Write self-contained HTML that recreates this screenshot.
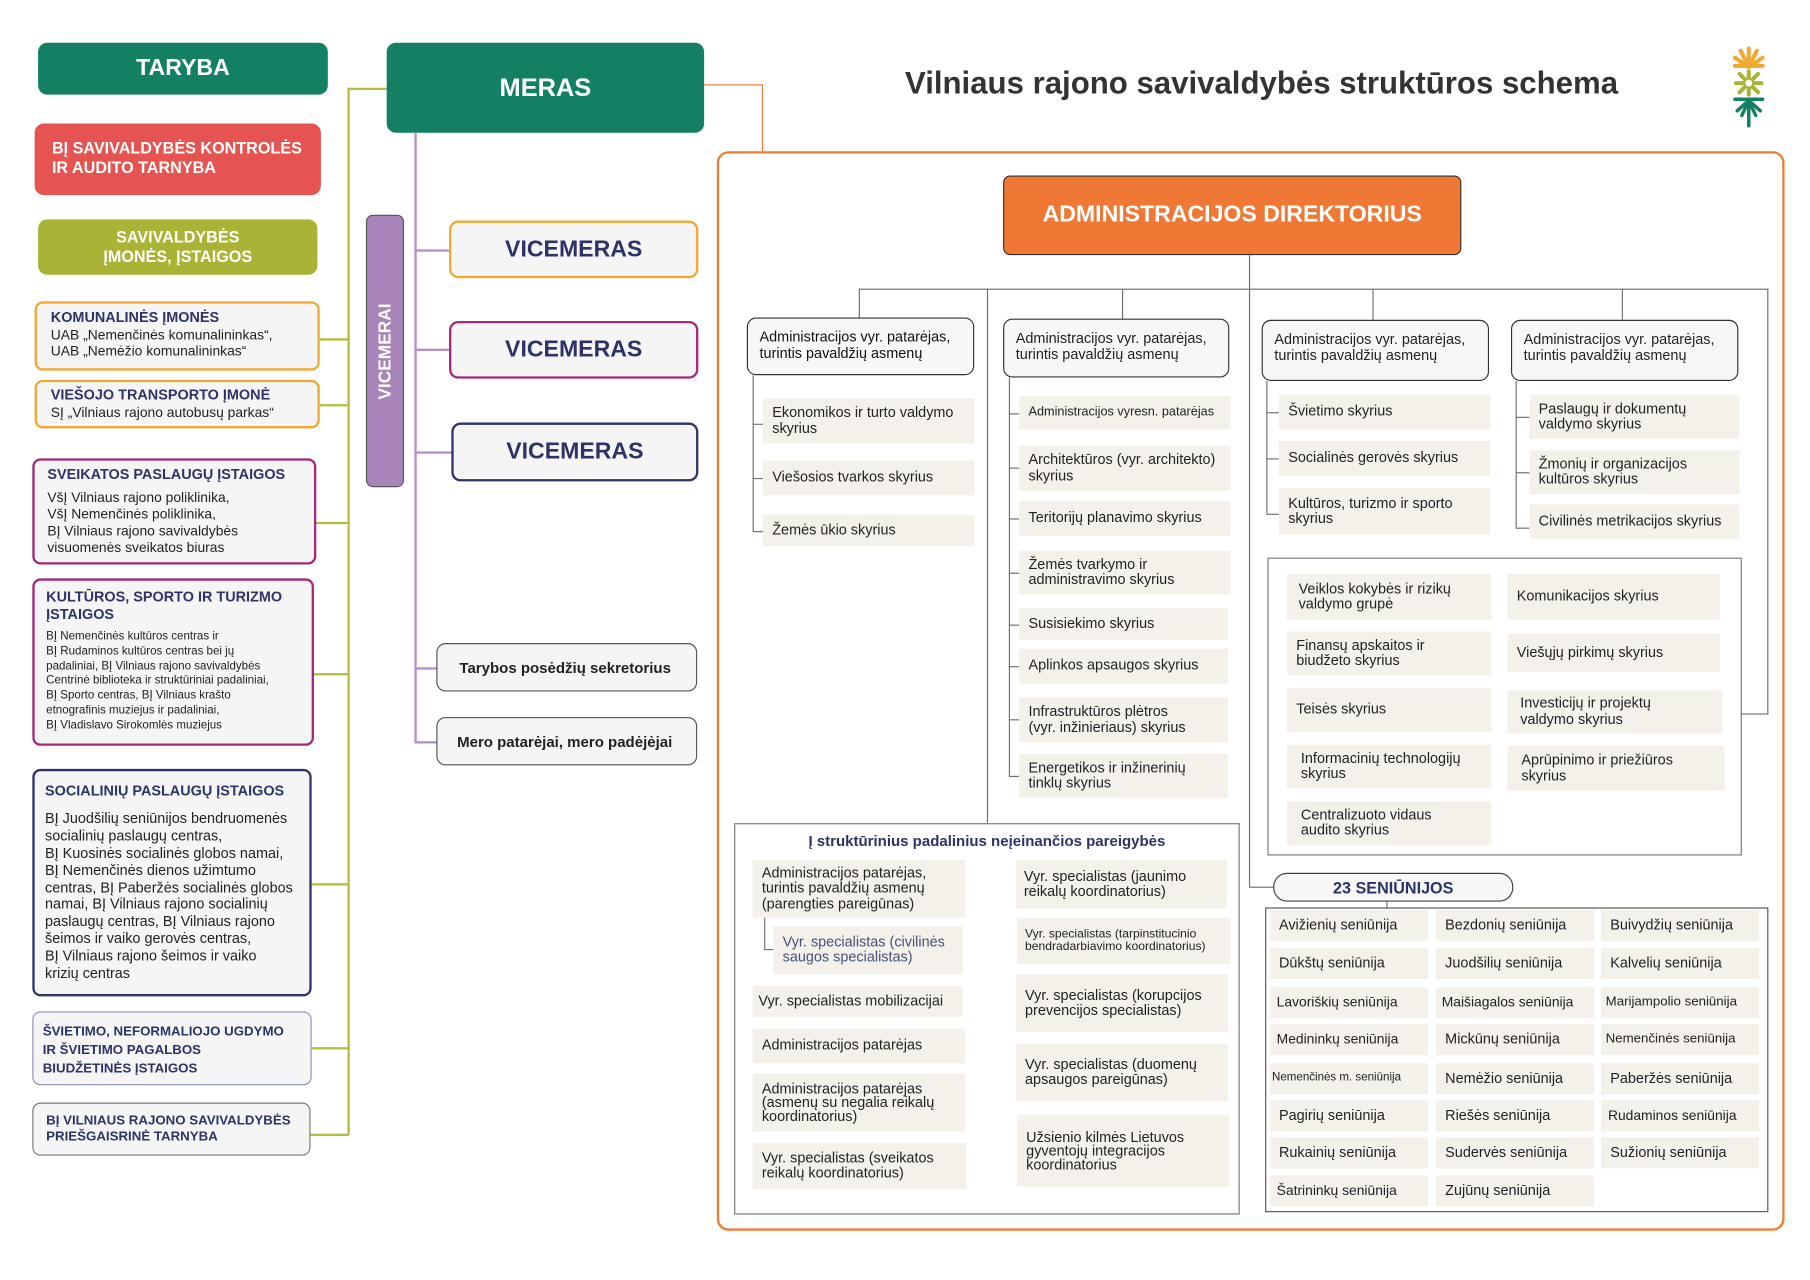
<!DOCTYPE html>
<html><head><meta charset="utf-8">
<style>
html,body{margin:0;padding:0;background:#fff;width:1810px;height:1280px;overflow:hidden}
#w{position:absolute;left:0;top:0;width:1568px;height:1109px;transform-origin:0 0;transform:scale(1.1543,1.1545);font-family:"Liberation Sans",sans-serif;color:#222}
.b{position:absolute;box-sizing:border-box}
.h{position:absolute;height:1px;background:#6f6f6f}
.v{position:absolute;width:1px;background:#6f6f6f}
.it{position:absolute;box-sizing:border-box;background:#f3f1ea;padding-left:8px;display:flex;align-items:center;font-size:12.5px;line-height:1.05;color:#222;white-space:nowrap}
.hd{position:absolute;box-sizing:border-box;background:#f7f7f7;border:1px solid #333;border-radius:8px;padding:10px 10px;font-size:12.5px;line-height:1.1}
.lb{position:absolute;box-sizing:border-box;background:#f5f5f6;border-radius:7px;padding:6px 10px;font-size:12px;line-height:1.2}
.lb b{color:#2d3366;font-size:12.5px}
.vm{position:absolute;box-sizing:border-box;background:#f5f5f6;border-radius:8px;display:flex;align-items:center;justify-content:center;font-weight:bold;font-size:20px;color:#2d3366;border-width:2px;border-style:solid}
.ol{position:absolute;background:#b5bd3c}
.pl{position:absolute;background:#b48fc7}
</style></head><body><div id="w">

<div class="ol" style="left:301px;top:76px;width:1.5px;height:907px"></div>
<div class="ol" style="left:301px;top:76px;width:34px;height:1.5px"></div>
<div class="ol" style="left:277px;top:293px;width:25px;height:1.5px"></div>
<div class="ol" style="left:277px;top:350px;width:25px;height:1.5px"></div>
<div class="ol" style="left:274px;top:452px;width:28px;height:1.5px"></div>
<div class="ol" style="left:272px;top:583px;width:30px;height:1.5px"></div>
<div class="ol" style="left:270px;top:765px;width:32px;height:1.5px"></div>
<div class="ol" style="left:270px;top:907px;width:32px;height:1.5px"></div>
<div class="ol" style="left:269px;top:982px;width:33px;height:1.5px"></div>

<div class="b" style="left:33px;top:37px;width:251px;height:45px;background:#138064;border-radius:8px;color:#fff;font-weight:bold;font-size:20px;display:flex;align-items:center;justify-content:center">TARYBA</div>
<div class="b" style="left:30px;top:107px;width:248px;height:62px;background:#e55451;border-radius:8px;color:#fff;font-weight:bold;font-size:14px;padding:13px 0 0 15px;line-height:1.2">BĮ SAVIVALDYBĖS KONTROLĖS<br>IR AUDITO TARNYBA</div>
<div class="b" style="left:33px;top:190px;width:242px;height:48px;background:#a9b436;border-radius:8px;color:#fff;font-weight:bold;font-size:14px;display:flex;align-items:center;justify-content:center;text-align:center;line-height:1.2">SAVIVALDYBĖS<br>ĮMONĖS, ĮSTAIGOS</div>

<div class="lb" style="left:30px;top:261px;width:247px;height:60px;border:2px solid #efa830;padding:5px 12px"><b>KOMUNALINĖS ĮMONĖS</b><br>UAB „Nemenčinės komunalininkas“,<br>UAB „Nemėžio komunalininkas“</div>
<div class="lb" style="left:30px;top:329px;width:247px;height:42px;border:2px solid #efa830;padding:4px 12px"><b>VIEŠOJO TRANSPORTO ĮMONĖ</b><br>SĮ „Vilniaus rajono autobusų parkas“</div>
<div class="lb" style="left:28px;top:397px;width:246px;height:92px;border:2px solid #a3287a;padding:5px 11px"><b>SVEIKATOS PASLAUGŲ ĮSTAIGOS</b><div style="margin-top:5px;line-height:1.2">VšĮ Vilniaus rajono poliklinika,<br>VšĮ Nemenčinės poliklinika,<br>BĮ Vilniaus rajono savivaldybės<br>visuomenės sveikatos biuras</div></div>
<div class="lb" style="left:28px;top:501px;width:244px;height:145px;border:2px solid #a3287a;padding:7px 10px"><b>KULTŪROS, SPORTO IR TURIZMO<br>ĮSTAIGOS</b><div style="margin-top:6px;font-size:10px;line-height:1.28">BĮ Nemenčinės kultūros centras ir<br>BĮ Rudaminos kultūros centras bei jų<br>padaliniai, BĮ Vilniaus rajono savivaldybės<br>Centrinė biblioteka ir struktūriniai padaliniai,<br>BĮ Sporto centras, BĮ Vilniaus krašto<br>etnografinis muziejus ir padaliniai,<br>BĮ Vladislavo Sirokomlės muziejus</div></div>
<div class="lb" style="left:28px;top:666px;width:242px;height:197px;border:2px solid #2f3369;padding:10px 9px"><b>SOCIALINIŲ PASLAUGŲ ĮSTAIGOS</b><div style="margin-top:9px;font-size:12.5px;line-height:1.19">BĮ Juodšilių seniūnijos bendruomenės<br>socialinių paslaugų centras,<br>BĮ Kuosinės socialinės globos namai,<br>BĮ Nemenčinės dienos užimtumo<br>centras, BĮ Paberžės socialinės globos<br>namai, BĮ Vilniaus rajono socialinių<br>paslaugų centras, BĮ Vilniaus rajono<br>šeimos ir vaiko gerovės centras,<br>BĮ Vilniaus rajono šeimos ir vaiko<br>krizių centras</div></div>
<div class="lb" style="left:28px;top:876px;width:242px;height:64px;border:1px solid #8a8fb5;padding:9px 8px;line-height:1.2"><b style="font-size:11.5px">ŠVIETIMO, NEFORMALIOJO UGDYMO<br>IR ŠVIETIMO PAGALBOS<br>BIUDŽETINĖS ĮSTAIGOS</b></div>
<div class="lb" style="left:28px;top:955px;width:241px;height:46px;border:1px solid #777;padding:8px 11px;line-height:1.15"><b style="font-size:11.5px">BĮ VILNIAUS RAJONO SAVIVALDYBĖS<br>PRIEŠGAISRINĖ TARNYBA</b></div>

<div class="b" style="left:335px;top:37px;width:275px;height:78px;background:#138064;border-radius:8px;color:#fff;font-weight:bold;font-size:22px;display:flex;align-items:center;justify-content:center">MERAS</div>
<div class="b" style="left:610px;top:73px;width:51px;height:59px;border-top:1.5px solid #ef7a35;border-right:1.5px solid #ef7a35"></div>

<div class="pl" style="left:359px;top:115px;width:1.5px;height:528px"></div>
<div class="pl" style="left:359px;top:216px;width:30px;height:1.5px"></div>
<div class="pl" style="left:359px;top:302px;width:30px;height:1.5px"></div>
<div class="pl" style="left:359px;top:391px;width:32px;height:1.5px"></div>
<div class="pl" style="left:359px;top:578px;width:20px;height:1.5px"></div>
<div class="pl" style="left:359px;top:642px;width:20px;height:1.5px"></div>
<div class="b" style="left:317px;top:186px;width:33px;height:236px;background:#a785bb;border:1px solid #555;border-radius:6px"></div>
<div class="b" style="left:317px;top:186px;width:33px;height:236px;display:flex;align-items:center;justify-content:center"><div style="transform:rotate(-90deg);color:#fff;font-weight:bold;font-size:15px;white-space:nowrap">VICEMERAI</div></div>
<div class="vm" style="left:389px;top:191px;width:216px;height:50px;border-color:#efa830">VICEMERAS</div>
<div class="vm" style="left:389px;top:278px;width:216px;height:50px;border-color:#a3287a">VICEMERAS</div>
<div class="vm" style="left:391px;top:366px;width:214px;height:51px;border-color:#2f3369">VICEMERAS</div>
<div class="b" style="left:378px;top:557px;width:226px;height:42px;background:#f5f5f5;border:1px solid #555;border-radius:8px;font-weight:bold;font-size:13px;display:flex;align-items:center;padding-left:19px">Tarybos posėdžių sekretorius</div>
<div class="b" style="left:378px;top:621px;width:226px;height:42px;background:#f5f5f5;border:1px solid #555;border-radius:8px;font-weight:bold;font-size:13px;display:flex;align-items:center;padding-left:17px">Mero patarėjai, mero padėjėjai</div>

<div class="b" style="left:784px;top:57px;font-size:27px;font-weight:bold;color:#333;white-space:nowrap">Vilniaus rajono savivaldybės struktūros schema</div>
<svg class="b" style="left:1498px;top:38px" width="34" height="74" viewBox="0 0 34 74">
<g stroke="#efa830" stroke-width="3.5" stroke-linecap="round"><line x1="17" y1="20" x2="17" y2="4"/><line x1="17" y1="20" x2="10" y2="6"/><line x1="17" y1="20" x2="24" y2="6"/><line x1="17" y1="20" x2="5" y2="12"/><line x1="17" y1="20" x2="29" y2="12"/><line x1="5" y1="19" x2="29" y2="19"/></g>
<g stroke="#a9b436" stroke-width="3.5" stroke-linecap="round"><line x1="17" y1="24" x2="17" y2="44"/><line x1="6" y1="34" x2="28" y2="34"/><line x1="9" y1="26" x2="25" y2="42"/><line x1="25" y1="26" x2="9" y2="42"/></g>
<circle cx="17" cy="34" r="3" fill="#fff"/>
<g stroke="#138064" stroke-width="3" stroke-linecap="round"><line x1="5" y1="48" x2="29" y2="48"/><line x1="17" y1="48" x2="17" y2="71"/><line x1="17" y1="49" x2="7" y2="58"/><line x1="17" y1="49" x2="27" y2="58"/><line x1="17" y1="49" x2="11" y2="62"/><line x1="17" y1="49" x2="23" y2="62"/></g>
</svg>

<div class="b" style="left:621px;top:131px;width:925px;height:935px;border:2px solid #ef7a35;border-radius:10px"></div>
<div class="b" style="left:869px;top:152px;width:397px;height:69px;background:#ef7834;border:1px solid #333;border-radius:6px;color:#fff;font-weight:bold;font-size:20px;display:flex;align-items:center;justify-content:center">ADMINISTRACIJOS DIREKTORIUS</div>

<div class="v" style="left:1082px;top:221px;height:547px"></div>
<div class="h" style="left:744px;top:250px;width:788px"></div>
<div class="v" style="left:744px;top:250px;height:25px"></div>
<div class="v" style="left:972px;top:250px;height:26px"></div>
<div class="v" style="left:1189px;top:250px;height:27px"></div>
<div class="v" style="left:1405px;top:250px;height:27px"></div>
<div class="v" style="left:855px;top:250px;height:463px"></div>
<div class="v" style="left:1531px;top:250px;height:369px"></div>
<div class="h" style="left:1508px;top:618px;width:24px"></div>
<div class="h" style="left:1082px;top:768px;width:21px"></div>

<div class="hd" style="left:647px;top:275px;width:197px;height:50px;color:#111">Administracijos vyr. patarėjas, turintis pavaldžių asmenų</div>
<div class="hd" style="left:869px;top:276px;width:196px;height:51px">Administracijos vyr. patarėjas, turintis pavaldžių asmenų</div>
<div class="hd" style="left:1093px;top:277px;width:197px;height:53px">Administracijos vyr. patarėjas, turintis pavaldžių asmenų</div>
<div class="hd" style="left:1309px;top:277px;width:197px;height:53px">Administracijos vyr. patarėjas, turintis pavaldžių asmenų</div>

<div class="v" style="left:652px;top:325px;height:135px"></div>
<div class="h" style="left:652px;top:367px;width:9px"></div><div class="h" style="left:652px;top:414px;width:9px"></div><div class="h" style="left:652px;top:460px;width:9px"></div>
<div class="it" style="left:661px;top:345px;width:183px;height:39px">Ekonomikos ir turto valdymo<br>skyrius</div>
<div class="it" style="left:661px;top:399px;width:183px;height:30px">Viešosios tvarkos skyrius</div>
<div class="it" style="left:661px;top:446px;width:183px;height:27px">Žemės ūkio skyrius</div>

<div class="v" style="left:874px;top:327px;height:345px"></div>
<div class="h" style="left:874px;top:358px;width:9px"></div><div class="h" style="left:874px;top:405px;width:9px"></div><div class="h" style="left:874px;top:449px;width:9px"></div><div class="h" style="left:874px;top:496px;width:9px"></div><div class="h" style="left:874px;top:541px;width:9px"></div><div class="h" style="left:874px;top:577px;width:9px"></div><div class="h" style="left:874px;top:623px;width:9px"></div><div class="h" style="left:874px;top:672px;width:9px"></div>
<div class="it" style="left:883px;top:343px;width:183px;height:29px;font-size:11px">Administracijos vyresn. patarėjas</div>
<div class="it" style="left:883px;top:386px;width:183px;height:39px">Architektūros (vyr. architekto)<br>skyrius</div>
<div class="it" style="left:883px;top:434px;width:183px;height:30px">Teritorijų planavimo skyrius</div>
<div class="it" style="left:883px;top:477px;width:183px;height:38px">Žemės tvarkymo ir<br>administravimo skyrius</div>
<div class="it" style="left:883px;top:527px;width:181px;height:27px">Susisiekimo skyrius</div>
<div class="it" style="left:883px;top:562px;width:181px;height:30px">Aplinkos apsaugos skyrius</div>
<div class="it" style="left:883px;top:604px;width:181px;height:39px">Infrastruktūros plėtros<br>(vyr. inžinieriaus) skyrius</div>
<div class="it" style="left:883px;top:653px;width:181px;height:38px">Energetikos ir inžinerinių<br>tinklų skyrius</div>

<div class="v" style="left:1097px;top:330px;height:115px"></div>
<div class="h" style="left:1097px;top:357px;width:11px"></div><div class="h" style="left:1097px;top:397px;width:11px"></div><div class="h" style="left:1097px;top:445px;width:11px"></div>
<div class="it" style="left:1108px;top:342px;width:183px;height:30px">Švietimo skyrius</div>
<div class="it" style="left:1108px;top:382px;width:183px;height:30px">Socialinės gerovės skyrius</div>
<div class="it" style="left:1108px;top:423px;width:183px;height:40px">Kultūros, turizmo ir sporto<br>skyrius</div>

<div class="v" style="left:1313px;top:330px;height:127px"></div>
<div class="h" style="left:1313px;top:361px;width:12px"></div><div class="h" style="left:1313px;top:409px;width:12px"></div><div class="h" style="left:1313px;top:457px;width:12px"></div>
<div class="it" style="left:1325px;top:342px;width:182px;height:38px">Paslaugų ir dokumentų<br>valdymo skyrius</div>
<div class="it" style="left:1325px;top:390px;width:182px;height:38px">Žmonių ir organizacijos<br>kultūros skyrius</div>
<div class="it" style="left:1325px;top:437px;width:182px;height:30px">Civilinės metrikacijos skyrius</div>

<div class="b" style="left:1098px;top:483px;width:411px;height:258px;border:1px solid #777"></div>
<div class="it" style="left:1115px;top:497px;width:177px;height:40px;padding-left:10px">Veiklos kokybės ir rizikų<br>valdymo grupė</div>
<div class="it" style="left:1115px;top:547px;width:177px;height:38px;padding-left:8px">Finansų apskaitos ir<br>biudžeto skyrius</div>
<div class="it" style="left:1115px;top:596px;width:177px;height:38px">Teisės skyrius</div>
<div class="it" style="left:1115px;top:645px;width:177px;height:38px;padding-left:12px">Informacinių technologijų<br>skyrius</div>
<div class="it" style="left:1115px;top:694px;width:177px;height:38px;padding-left:12px">Centralizuoto vidaus<br>audito skyrius</div>
<div class="it" style="left:1306px;top:497px;width:184px;height:40px">Komunikacijos skyrius</div>
<div class="it" style="left:1306px;top:549px;width:184px;height:33px">Viešųjų pirkimų skyrius</div>
<div class="it" style="left:1306px;top:598px;width:186px;height:37px;padding-left:11px">Investicijų ir projektų<br>valdymo skyrius</div>
<div class="it" style="left:1306px;top:646px;width:188px;height:39px;padding-left:12px">Aprūpinimo ir priežiūros<br>skyrius</div>

<div class="b" style="left:636px;top:713px;width:438px;height:339px;border:1px solid #777;background:#fff"></div>
<div class="b" style="left:636px;top:721px;width:438px;text-align:center;font-weight:bold;color:#2d3366;font-size:13px">Į struktūrinius padalinius neįeinančios pareigybės</div>
<div class="it" style="left:652px;top:745px;width:184px;height:50px">Administracijos patarėjas,<br>turintis pavaldžių asmenų<br>(parengties pareigūnas)</div>
<div class="v" style="left:662px;top:795px;height:27px"></div><div class="h" style="left:662px;top:822px;width:8px"></div>
<div class="it" style="left:670px;top:802px;width:164px;height:42px;color:#4a4f7a">Vyr. specialistas (civilinės<br>saugos specialistas)</div>
<div class="it" style="left:652px;top:854px;width:182px;height:27px;padding-left:5px">Vyr. specialistas mobilizacijai</div>
<div class="it" style="left:652px;top:891px;width:184px;height:30px">Administracijos patarėjas</div>
<div class="it" style="left:652px;top:930px;width:184px;height:50px;line-height:0.98">Administracijos patarėjas<br>(asmenų su negalia reikalų<br>koordinatorius)</div>
<div class="it" style="left:652px;top:990px;width:185px;height:40px">Vyr. specialistas (sveikatos<br>reikalų koordinatorius)</div>
<div class="it" style="left:880px;top:745px;width:183px;height:42px;padding-left:7px">Vyr. specialistas (jaunimo<br>reikalų koordinatorius)</div>
<div class="it" style="left:881px;top:795px;width:185px;height:40px;padding-left:7px;font-size:10.5px">Vyr. specialistas (tarpinstitucinio<br>bendradarbiavimo koordinatorius)</div>
<div class="it" style="left:880px;top:844px;width:184px;height:50px">Vyr. specialistas (korupcijos<br>prevencijos specialistas)</div>
<div class="it" style="left:880px;top:904px;width:184px;height:50px">Vyr. specialistas (duomenų<br>apsaugos pareigūnas)</div>
<div class="it" style="left:881px;top:966px;width:184px;height:62px;line-height:0.98">Užsienio kilmės Lietuvos<br>gyventojų integracijos<br>koordinatorius</div>

<div class="b" style="left:1103px;top:756px;width:208px;height:25px;border:1px solid #444;border-radius:12px;background:#f7f7f7;display:flex;align-items:center;justify-content:center;font-weight:bold;color:#2d3366;font-size:14px">23 SENIŪNIJOS</div>
<div class="v" style="left:1201px;top:781px;height:6px"></div>
<div class="b" style="left:1096px;top:786px;width:436px;height:264px;border:1px solid #555"></div>
<div class="it" style="left:1100px;top:788px;width:137px;height:27px">Avižienių seniūnija</div>
<div class="it" style="left:1244px;top:788px;width:137px;height:27px">Bezdonių seniūnija</div>
<div class="it" style="left:1387px;top:788px;width:137px;height:27px">Buivydžių seniūnija</div>
<div class="it" style="left:1100px;top:821px;width:137px;height:27px">Dūkštų seniūnija</div>
<div class="it" style="left:1244px;top:821px;width:137px;height:27px">Juodšilių seniūnija</div>
<div class="it" style="left:1387px;top:821px;width:137px;height:27px">Kalvelių seniūnija</div>
<div class="it" style="left:1100px;top:855px;width:137px;height:27px;font-size:12px;padding-left:6px">Lavoriškių seniūnija</div>
<div class="it" style="left:1244px;top:855px;width:137px;height:27px;font-size:12px;padding-left:5px">Maišiagalos seniūnija</div>
<div class="it" style="left:1387px;top:855px;width:137px;height:27px;font-size:11.5px;padding-left:4px">Marijampolio seniūnija</div>
<div class="it" style="left:1100px;top:887px;width:137px;height:27px;font-size:12px;padding-left:6px">Medininkų seniūnija</div>
<div class="it" style="left:1244px;top:887px;width:137px;height:27px">Mickūnų seniūnija</div>
<div class="it" style="left:1387px;top:887px;width:137px;height:27px;font-size:11.5px;padding-left:4px">Nemenčinės seniūnija</div>
<div class="it" style="left:1100px;top:921px;width:137px;height:27px;font-size:10px;padding-left:2px">Nemenčinės m. seniūnija</div>
<div class="it" style="left:1244px;top:921px;width:137px;height:27px">Nemėžio seniūnija</div>
<div class="it" style="left:1387px;top:921px;width:137px;height:27px">Paberžės seniūnija</div>
<div class="it" style="left:1100px;top:953px;width:137px;height:27px">Pagirių seniūnija</div>
<div class="it" style="left:1244px;top:953px;width:137px;height:27px">Riešės seniūnija</div>
<div class="it" style="left:1387px;top:953px;width:137px;height:27px;font-size:12px;padding-left:6px">Rudaminos seniūnija</div>
<div class="it" style="left:1100px;top:985px;width:137px;height:27px">Rukainių seniūnija</div>
<div class="it" style="left:1244px;top:985px;width:137px;height:27px">Sudervės seniūnija</div>
<div class="it" style="left:1387px;top:985px;width:137px;height:27px">Sužionių seniūnija</div>
<div class="it" style="left:1100px;top:1018px;width:137px;height:27px;font-size:12px;padding-left:6px">Šatrininkų seniūnija</div>
<div class="it" style="left:1244px;top:1018px;width:137px;height:27px">Zujūnų seniūnija</div>

</div></body></html>
